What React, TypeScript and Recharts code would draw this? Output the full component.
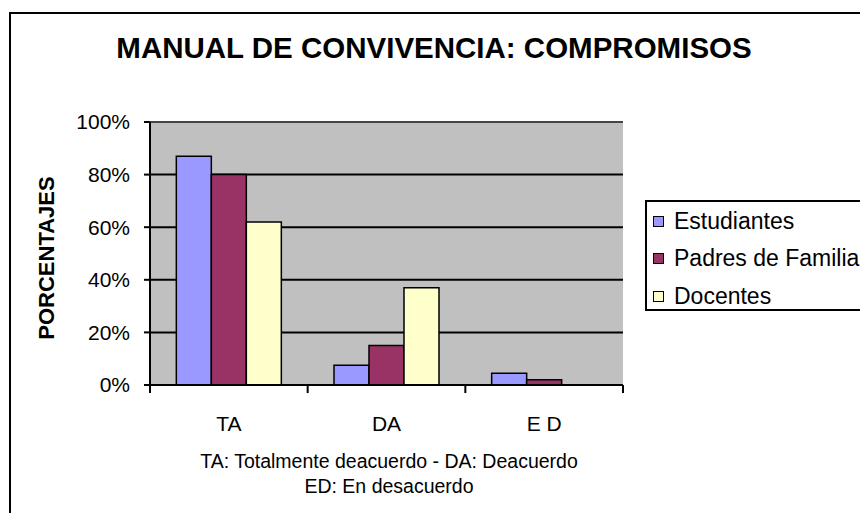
import { BarChart, Bar, CartesianGrid, XAxis, YAxis, Legend, ReferenceLine } from "recharts";

const categories = ["TA", "DA", "ED"];
const tickLabels = ["TA", "DA", "E D"];
const estudiantes = [87, 7.5, 4.5];
const padres = [80, 15, 2];
const docentes = [62, 37, 0];
const yTicks = [0, 20, 40, 60, 80, 100];

const series = [
  { key: "estudiantes", label: "Estudiantes", color: "#9999FF", values: estudiantes },
  { key: "padres", label: "Padres de Familia", color: "#993366", values: padres },
  { key: "docentes", label: "Docentes", color: "#FFFFCC", values: docentes },
];

const data = categories.map((cat, i) => {
  const row: Record<string, string | number> = { cat };
  series.forEach((s) => {
    row[s.key] = s.values[i];
  });
  return row;
});

const FONT = "'Liberation Sans', Arial, sans-serif";
const W = 868;
const H = 521;
const MARGIN = { top: 122, right: 245, bottom: 96, left: 0 };
const Y_WIDTH = 150;
const PLOT_W = W - MARGIN.left - MARGIN.right - Y_WIDTH;

function CategoryTick(props: any) {
  const { x, y, payload } = props;
  const idx = categories.indexOf(payload.value);
  const band = PLOT_W / categories.length;
  const isLast = idx === categories.length - 1;
  return (
    <g>
      <line x1={x - band / 2} y1={y} x2={x - band / 2} y2={y + 8} stroke="#000" strokeWidth={2} />
      {isLast && <line x1={x + band / 2} y1={y} x2={x + band / 2} y2={y + 8} stroke="#000" strokeWidth={2} />}
      <text x={x} y={y + 38} textAnchor="middle" dominantBaseline="central" fontSize={21} fill="#000" fontFamily={FONT}>
        {tickLabels[idx]}
      </text>
    </g>
  );
}

// legend drawn from the series list so the order stays as in the original
function LegendBox() {
  return (
    <div
      style={{
        position: "relative",
        width: 222,
        height: 111,
        border: "2px solid #000",
        background: "#fff",
        boxSizing: "border-box",
        fontFamily: FONT,
      }}
    >
      {series.map((s, i) => (
        <div
          key={s.key}
          style={{
            position: "absolute",
            left: 6,
            top: 1 + i * 37.5,
            height: 36,
            display: "flex",
            alignItems: "center",
            fontSize: 23,
            color: "#000",
            whiteSpace: "nowrap",
          }}
        >
          <span
            style={{
              display: "inline-block",
              width: 9,
              height: 9,
              background: s.color,
              border: "1.5px solid #000",
              marginRight: 10,
            }}
          />
          {s.label}
        </div>
      ))}
    </div>
  );
}

export default function App() {
  return (
    <div style={{ position: "relative", width: W, height: H, margin: -8, overflow: "hidden", background: "#fff", fontFamily: FONT }}>
      <div
        style={{
          position: "absolute",
          left: 9,
          top: 12,
          width: 900,
          height: 560,
          border: "2px solid #000",
        }}
      />
      <div
        style={{
          position: "absolute",
          left: 0,
          width: 868,
          top: 29,
          textAlign: "center",
          fontWeight: "bold",
          fontSize: 29.5,
          lineHeight: "38px",
          color: "#000",
        }}
      >
        MANUAL DE CONVIVENCIA: COMPROMISOS
      </div>
      <div
        style={{
          position: "absolute",
          left: 47 - 100,
          top: 258 - 14,
          width: 200,
          height: 28,
          lineHeight: "28px",
          textAlign: "center",
          transform: "rotate(-90deg)",
          fontWeight: "bold",
          fontSize: 22,
          color: "#000",
        }}
      >
        PORCENTAJES
      </div>
      <div
        style={{
          position: "absolute",
          left: 150,
          width: 478,
          top: 449,
          textAlign: "center",
          fontSize: 19.5,
          lineHeight: "25px",
          color: "#000",
        }}
      >
        <div>TA: Totalmente deacuerdo - DA: Deacuerdo</div>
        <div>ED: En desacuerdo</div>
      </div>
      <div style={{ position: "absolute", left: 0, top: 0 }}>
        <BarChart width={W} height={H} data={data} margin={MARGIN} barCategoryGap="16.7%" barGap={0}>
          <CartesianGrid fill="#C0C0C0" stroke="#000" strokeWidth={2} vertical={false} />
          <XAxis
            dataKey="cat"
            axisLine={{ stroke: "#000", strokeWidth: 2 }}
            tickLine={false}
            tickSize={0}
            tickMargin={0}
            height={40}
            interval={0}
            tick={<CategoryTick />}
          />
          <YAxis
            width={Y_WIDTH}
            domain={[0, 100]}
            ticks={yTicks}
            interval={0}
            tickFormatter={(v: number) => `${v}%`}
            axisLine={{ stroke: "#000", strokeWidth: 2 }}
            tickLine={{ stroke: "#000", strokeWidth: 2 }}
            tickSize={6}
            tickMargin={14}
            tick={{ fontSize: 21, fill: "#000", fontFamily: FONT }}
          />
          <YAxis
            yAxisId="frame"
            orientation="right"
            width={0}
            domain={[0, 100]}
            tick={false}
            tickLine={false}
            axisLine={{ stroke: "#8a8a8a", strokeWidth: 1 }}
          />
          <ReferenceLine y={100} stroke="#8a8a8a" strokeWidth={1} />
          {series.map((s) => (
            <Bar
              key={s.key}
              dataKey={s.key}
              name={s.label}
              fill={s.color}
              stroke="#000"
              strokeWidth={1.5}
              isAnimationActive={false}
            />
          ))}
          <Legend
            layout="horizontal"
            verticalAlign="middle"
            align="center"
            content={<LegendBox />}
            wrapperStyle={{ position: "absolute", left: 645, top: 200, width: 222, height: 111 }}
          />
        </BarChart>
      </div>
    </div>
  );
}
